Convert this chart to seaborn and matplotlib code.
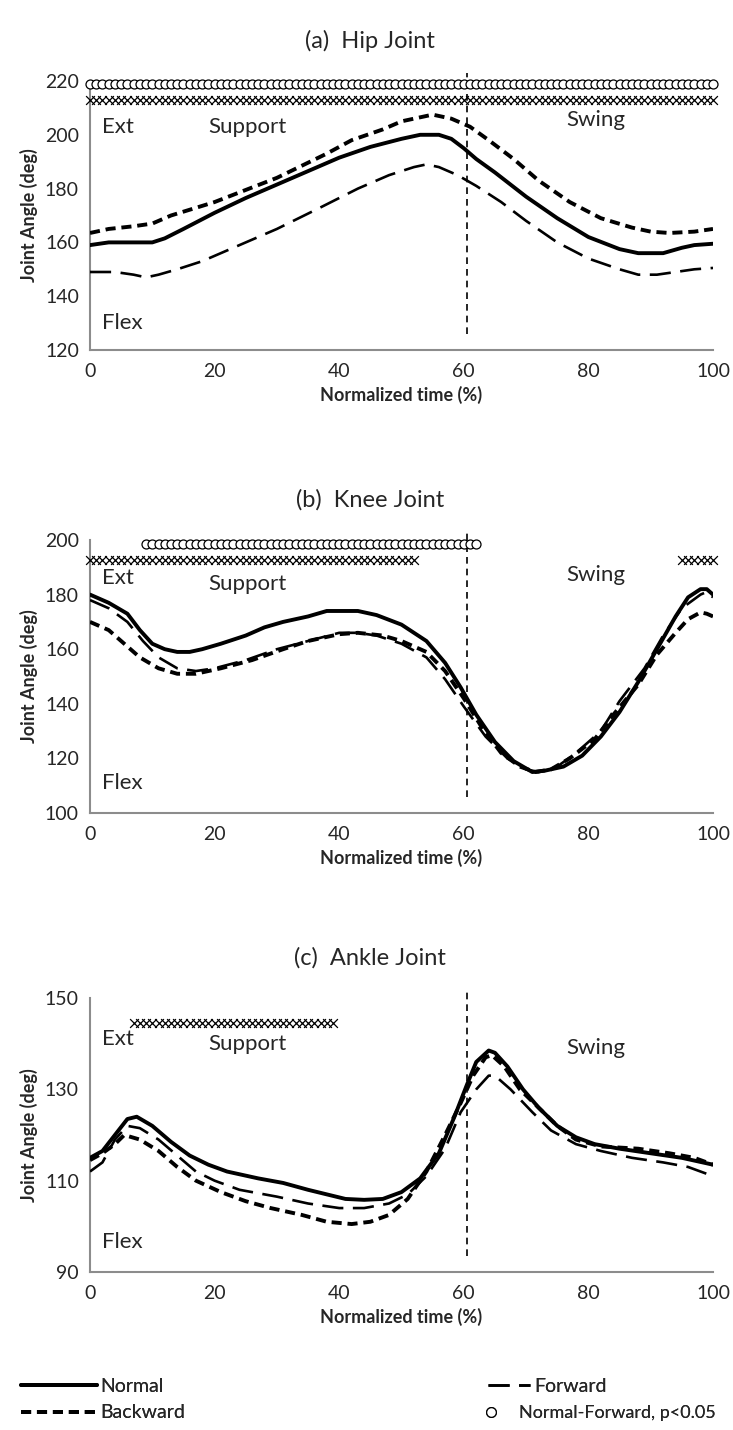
import numpy as np
import pandas as pd
import matplotlib
matplotlib.use("Agg")
import matplotlib.pyplot as plt
from matplotlib.lines import Line2D
import seaborn as sns

sns.set_theme(style="white")
plt.rcParams["font.family"] = ["Lato", "DejaVu Sans"]

# ---------------- data ----------------
# Hip joint angle (deg) vs normalized gait time (%)
hip_normal_x = [0, 3, 6, 10, 12, 15, 20, 25, 30, 35, 40, 45, 50, 53, 56, 58, 60, 62, 65, 70, 75, 80, 85, 88, 92, 95, 97, 100]
hip_normal_y = [159, 160, 160, 160, 161.5, 165, 171, 176.5, 181.5, 186.5, 191.5, 195.5, 198.5, 200, 200, 198.5, 195, 191, 186, 177, 169, 162, 157.5, 156, 156, 158, 159, 159.5]
hip_backward_x = [0, 3, 7, 10, 13, 20, 25, 30, 38, 42, 47, 50, 54, 55, 58, 61, 64, 68, 72, 77, 82, 87, 90, 93, 97, 100]
hip_backward_y = [163.5, 165, 166, 167, 170, 175, 179.5, 184, 193, 198, 202, 205, 207, 207.5, 206, 203, 198, 191, 183, 175, 169, 165.5, 164, 163.5, 164, 165]
hip_forward_x = [0, 4, 7, 9, 11, 14, 18, 22, 30, 37, 43, 48, 52, 54, 56, 59, 62, 66, 70, 75, 80, 85, 88, 91, 94, 97, 100]
hip_forward_y = [149, 149, 148, 147, 148, 150, 153, 157, 165, 173, 180, 185, 188, 189, 188, 185, 181, 175, 168, 160, 154, 150, 148, 148, 149, 150, 150.5]

# Knee joint angle (deg)
knee_normal_x = [0, 3, 6, 8, 10, 12, 14, 16, 18, 21, 25, 28, 31, 35, 38, 43, 46, 50, 54, 57, 59.5, 62, 65, 68, 71, 73, 76, 79, 82, 85, 88, 91, 94, 96, 98, 99, 100]
knee_normal_y = [180, 177, 173, 167, 162, 160, 159, 159, 160, 162, 165, 168, 170, 172, 174, 174, 172.5, 169, 163, 155, 146, 136, 126, 119, 115, 115.5, 117, 121, 128, 137, 148, 160, 172, 179, 182, 182, 180]
knee_forward_x = [0, 3, 6, 8.5, 11, 14, 17, 20, 25, 30, 35, 40, 43, 46, 50, 54, 57, 60, 63.5, 67, 70, 72, 75, 78, 82, 85, 89, 92, 95, 98, 99, 100]
knee_forward_y = [178, 175, 170, 163, 157, 153, 152, 153, 156, 160, 163, 166, 166, 165, 162, 157, 149, 139, 128, 120, 116, 115, 117, 122, 130, 141, 153, 165, 175, 180, 181, 179]
knee_backward_x = [0, 3, 5, 8, 11, 14, 17, 21, 26, 31, 35, 40, 43, 47, 50, 54, 57, 60, 63, 66, 69, 71.5, 74, 77, 81, 84, 88, 91, 94, 96, 98, 99, 100]
knee_backward_y = [170, 167, 163, 157, 153, 151, 151, 153, 156, 160, 163, 165.5, 166, 165, 163, 159, 152, 142, 131, 122, 117, 115, 116, 120, 127, 136, 147, 158, 166, 171, 173.5, 173, 172]

# Ankle joint angle (deg)
ankle_normal_x = [0, 2, 4, 6, 7.5, 10, 13, 16, 19, 22, 27, 31, 35, 38, 41, 44, 47, 50, 53, 56, 58.5, 60.5, 62, 64, 65, 67, 69.5, 72, 75, 78, 81, 85, 90, 95, 100]
ankle_normal_y = [115, 116.5, 120, 123.5, 124, 122, 118.5, 115.5, 113.5, 112, 110.5, 109.5, 108, 107, 106, 105.8, 106, 107.5, 110.5, 116, 124, 131, 136, 138.5, 138, 135, 130, 126, 122, 119.5, 118, 117, 116, 115, 113.5]
ankle_forward_x = [0, 2, 4, 6, 8, 11, 14, 17, 20, 24, 30, 35, 40, 44, 48, 51, 54, 57, 59.5, 62, 64, 65, 67.5, 71, 74, 78, 82, 87, 92, 96, 100]
ankle_forward_y = [112, 114, 119, 122, 121.5, 119, 115.5, 112, 110, 108, 106.5, 105, 104, 104, 105, 107, 111, 117, 125, 130, 133, 133, 130, 125, 121, 118, 116.5, 115, 114, 113, 111]
ankle_backward_x = [0, 2, 4, 5.5, 8, 11, 14, 17, 21, 25, 29, 34, 38, 42, 45, 48, 51, 54, 57, 59.5, 61.5, 63.5, 64.5, 66.5, 69, 72, 75, 78, 82, 88, 93, 97, 100]
ankle_backward_y = [114.5, 116, 118, 120, 119, 116.5, 113, 110, 107.5, 105.5, 104, 102.5, 101, 100.5, 101, 102.5, 106, 112, 120, 127, 133, 137, 137.5, 135, 130, 126, 122, 119, 117.5, 117, 116, 115, 113.5]

# Significance markers: (start %, end %, level in deg)
hip_circle_spans = [(0, 100, 219)]
hip_cross_spans = [(0, 100, 213)]
knee_circle_spans = [(9, 62, 198.5)]
knee_cross_spans = [(0, 52, 192.5), (95, 100, 192.5)]
ankle_circle_spans = []
ankle_cross_spans = [(7, 39, 144.5)]

# Panel settings
panel_titles = ["(a)  Hip Joint", "(b)  Knee Joint", "(c)  Ankle Joint"]
y_limits = [(120, 220), (100, 200), (90, 150)]
y_steps = [20, 20, 20]
x_ticks = [0, 20, 40, 60, 80, 100]
toe_off = 60.5
phase_text_y = [(203, 203, 205.5, 130), (186, 184, 187, 111), (141, 140, 139, 96.5)]

# ---------------- drawing ----------------
W, H = 733, 1430
fig = plt.figure(figsize=(W / 100, H / 100), dpi=100)

panel_px = [(81, 350), (540, 813), (998, 1272)]
left_px, right_px = 90, 713

axis_gray = "#8c8c8c"
styles = {
    "Normal": dict(lw=2.8, ls="-"),
    "Backward": dict(lw=2.8, ls=(0, (2.6, 1.5))),
    "Forward": dict(lw=1.9, ls=(0, (8.0, 3.6))),
}

data = [
    (hip_normal_x, hip_normal_y, hip_backward_x, hip_backward_y, hip_forward_x, hip_forward_y,
     hip_circle_spans, hip_cross_spans),
    (knee_normal_x, knee_normal_y, knee_backward_x, knee_backward_y, knee_forward_x, knee_forward_y,
     knee_circle_spans, knee_cross_spans),
    (ankle_normal_x, ankle_normal_y, ankle_backward_x, ankle_backward_y, ankle_forward_x, ankle_forward_y,
     ankle_circle_spans, ankle_cross_spans),
]

for i, (top, bot) in enumerate(panel_px):
    ax = fig.add_axes([left_px / W, 1 - bot / H, (right_px - left_px) / W, (bot - top) / H])
    nx, ny, bx, by, fx, fy, circ, cross = data[i]
    frames = [
        pd.DataFrame({"t": nx, "angle": ny, "cond": "Normal"}),
        pd.DataFrame({"t": bx, "angle": by, "cond": "Backward"}),
        pd.DataFrame({"t": fx, "angle": fy, "cond": "Forward"}),
    ]
    for df in frames:
        name = df["cond"].iloc[0]
        sns.lineplot(data=df, x="t", y="angle", ax=ax, color="black",
                     linewidth=styles[name]["lw"], linestyle=styles[name]["ls"],
                     estimator=None, sort=False, legend=False, zorder=3)

    # significance markers
    for (a, b, lvl) in circ:
        xs = np.arange(a, b + 1)
        sns.scatterplot(x=xs, y=np.full(len(xs), lvl), ax=ax, marker="o", s=42,
                        facecolor="white", edgecolor="black", linewidth=0.9,
                        legend=False, clip_on=False, zorder=5)
    for (a, b, lvl) in cross:
        xs = np.arange(a, b + 1)
        sns.scatterplot(x=xs, y=np.full(len(xs), lvl), ax=ax, marker="x", s=40,
                        color="black", linewidth=0.9, legend=False,
                        clip_on=False, zorder=5)

    ax.axvline(toe_off, ymin=0.06, ymax=1.03, color="black", lw=1.2,
               ls=(0, (4, 3)), clip_on=False, zorder=2)

    lo, hi = y_limits[i]
    ax.set_xlim(0, 100)
    ax.set_ylim(lo, hi)
    ax.set_xticks(x_ticks)
    ax.set_yticks(np.arange(lo, hi + 1, y_steps[i]))
    ax.tick_params(axis="x", direction="inout", length=9, width=1.2, color=axis_gray,
                   labelsize=14, pad=5)
    ax.tick_params(axis="y", direction="out", length=5, width=1.2, color=axis_gray,
                   labelsize=14, pad=3)
    for s in ["top", "right"]:
        ax.spines[s].set_visible(False)
    for s in ["left", "bottom"]:
        ax.spines[s].set_color(axis_gray)
        ax.spines[s].set_linewidth(1.5)
    ax.set_xlabel("Normalized time (%)", fontsize=13, fontweight="bold", labelpad=4)
    ax.set_ylabel("Joint Angle (deg)", fontsize=13, fontweight="bold", labelpad=5)
    ax.grid(False)

    ey, sy, wy, fly = phase_text_y[i]
    ax.text(2, ey, "Ext", fontsize=16, va="center", ha="left")
    ax.text(19, sy, "Support", fontsize=16, va="center", ha="left")
    ax.text(76.5, wy, "Swing", fontsize=16, va="center", ha="left")
    ax.text(2, fly, "Flex", fontsize=16, va="center", ha="left")

    fig.text(0.505, 1 - (top - 40) / H, panel_titles[i], fontsize=17,
             ha="center", va="center")

# legend, one entry per box so each row sits exactly
def line_handle(name):
    return Line2D([0], [0], color="black", lw=styles[name]["lw"], ls=styles[name]["ls"])

circle_handle = Line2D([0], [0], color="black", lw=0, marker="o", markersize=7,
                       markerfacecolor="white", markeredgecolor="black",
                       markeredgewidth=0.9)

row_y = [1386, 1413]

entries = [
    (line_handle("Normal"), "Normal", 0.015, row_y[0], 3.9, 0.2, 14),
    (line_handle("Backward"), "Backward", 0.015, row_y[1], 3.9, 0.2, 14),
    (line_handle("Forward"), "Forward", 0.652, row_y[0], 2.2, 0.2, 14),
    (circle_handle, "Normal-Forward, p<0.05", 0.652, row_y[1], 0.5, 1.3, 13),
]
for handle, label, lx, ly, hl, tp, fs in entries:
    leg = fig.legend([handle], [label], loc="center left", frameon=False,
                     borderpad=0, fontsize=fs, bbox_to_anchor=(lx, 1 - ly / H),
                     handlelength=hl, handletextpad=tp)
    fig.add_artist(leg)

fig.savefig("out.png", dpi=100, facecolor="white")
